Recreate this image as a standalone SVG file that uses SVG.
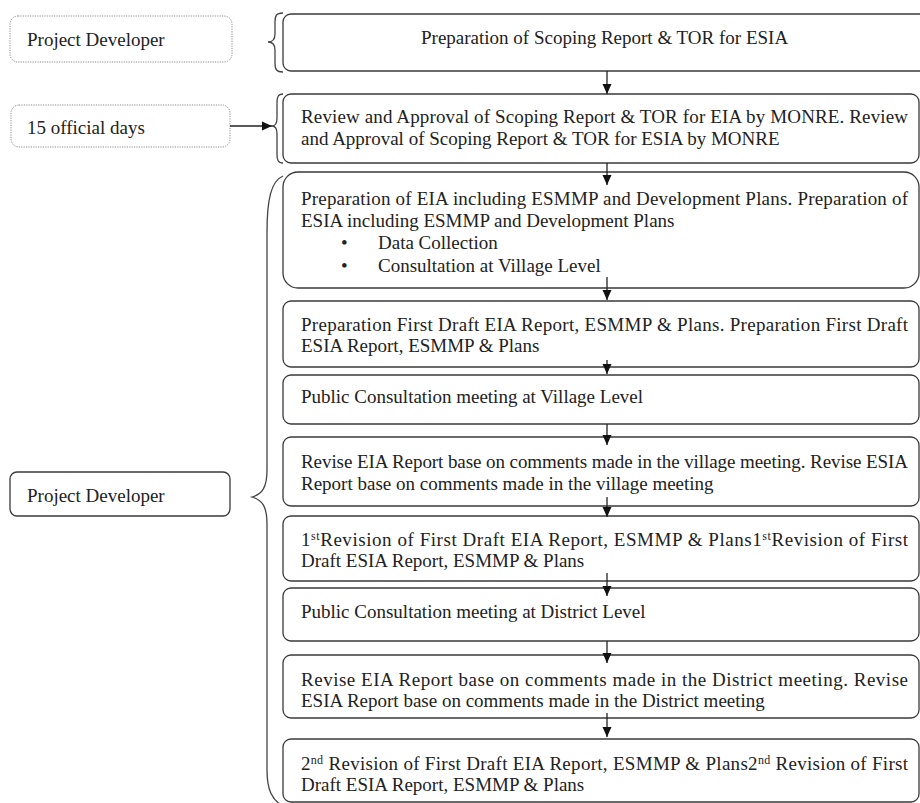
<svg xmlns="http://www.w3.org/2000/svg" width="920" height="803" viewBox="0 0 920 803">
<style>
text{font-family:"Liberation Serif","Times New Roman",serif;font-size:19px;fill:#222}
.box{fill:#fff;stroke:#3a3a3a;stroke-width:1.3}
.dot{fill:#fff;stroke:#8a8a8a;stroke-width:1;stroke-dasharray:1.2 1.2}
.con{fill:none;stroke:#222;stroke-width:1.3}
.brace{fill:none;stroke:#444;stroke-width:1.3}
.sup{font-size:12px}
</style>
<defs>
<marker id="ah" viewBox="0 0 10 10" refX="10" refY="5" markerWidth="10" markerHeight="10" markerUnits="userSpaceOnUse" orient="auto">
<path d="M0,0.5 L10,5 L0,9.5 z" fill="#111"/>
</marker>
</defs>
<rect width="920" height="803" fill="#fff"/>

<g id="lbl-developer-top">
<rect class="dot" x="10" y="16" width="222" height="46" rx="8"/>
<text x="27" y="46">Project Developer</text>
</g>
<g id="lbl-15days">
<rect class="dot" x="11" y="105" width="219" height="42" rx="8"/>
<text x="27" y="134">15 official days</text>
</g>
<g id="lbl-developer">
<rect class="box" x="10" y="472" width="220" height="44" rx="7"/>
<text x="27" y="502">Project Developer</text>
</g>

<g id="braces">
<path class="brace" d="M283,13 C276,13 275,16 275,22 L275,34 C275,40 272,42 268,42 C272,42 275,44 275,50 L275,63 C275,69 276,72 283,72"/>
<path class="brace" d="M283,94 C278,94 277,97 277,103 L277,118 C277,124 275,126 272,126 C275,126 277,128 277,134 L277,154 C277,160 278,163 283,163"/>
<path class="brace" d="M283,176 C271,181 267,200 267,232 L267,470 C267,488 262,494 252,497 C262,500 267,506 267,524 L267,770 C267,790 272,800 283,806"/>
</g>

<g id="n1">
<rect class="box" x="283" y="14" width="645" height="57" rx="8"/>
<text x="421" y="44">Preparation of Scoping Report &amp; TOR for ESIA</text>
</g>
<g id="n2">
<rect class="box" x="283" y="94" width="636" height="69" rx="8"/>
<text x="301" y="123" textLength="607" lengthAdjust="spacing">Review and Approval of Scoping Report &amp; TOR for EIA by MONRE. Review</text>
<text x="301" y="145">and Approval of Scoping Report &amp; TOR for ESIA by MONRE</text>
</g>
<g id="n3">
<rect class="box" x="283" y="172" width="636" height="116" rx="15"/>
<text x="301" y="205" textLength="607" lengthAdjust="spacing">Preparation of EIA including ESMMP and Development Plans. Preparation of</text>
<text x="301" y="227">ESIA including ESMMP and Development Plans</text>
<text x="341" y="249">•</text>
<text x="378" y="249">Data Collection</text>
<text x="341" y="272">•</text>
<text x="378" y="272">Consultation at Village Level</text>
</g>
<g id="n4">
<rect class="box" x="283" y="301" width="636" height="66" rx="8"/>
<text x="301" y="331" textLength="607" lengthAdjust="spacing">Preparation First Draft EIA Report, ESMMP &amp; Plans. Preparation First Draft</text>
<text x="301" y="352">ESIA Report, ESMMP &amp; Plans</text>
</g>
<g id="n5">
<rect class="box" x="283" y="375" width="636" height="49" rx="8"/>
<text x="301" y="403">Public Consultation meeting at Village Level</text>
</g>
<g id="n6">
<rect class="box" x="283" y="437" width="636" height="69" rx="8"/>
<text x="301" y="468" textLength="607" lengthAdjust="spacing">Revise EIA Report base on comments made in the village meeting. Revise ESIA</text>
<text x="301" y="490">Report base on comments made in the village meeting</text>
</g>
<g id="n7">
<rect class="box" x="283" y="516" width="636" height="65" rx="8"/>
<text x="301" y="546" textLength="607" lengthAdjust="spacing">1<tspan class="sup" dy="-6">st</tspan><tspan dy="6">Revision of First Draft EIA Report, ESMMP &amp; Plans1</tspan><tspan class="sup" dy="-6">st</tspan><tspan dy="6">Revision of First</tspan></text>
<text x="301" y="567">Draft ESIA Report, ESMMP &amp; Plans</text>
</g>
<g id="n8">
<rect class="box" x="283" y="588" width="636" height="53" rx="8"/>
<text x="301" y="618">Public Consultation meeting at District Level</text>
</g>
<g id="n9">
<rect class="box" x="283" y="655" width="636" height="63" rx="8"/>
<text x="301" y="686" textLength="607" lengthAdjust="spacing">Revise EIA Report base on comments made in the District meeting. Revise</text>
<text x="301" y="707">ESIA Report base on comments made in the District meeting</text>
</g>
<g id="n10">
<rect class="box" x="283" y="739" width="636" height="63" rx="8"/>
<text x="301" y="770" textLength="607" lengthAdjust="spacing">2<tspan class="sup" dy="-6">nd</tspan><tspan dy="6"> Revision of First Draft EIA Report, ESMMP &amp; Plans2</tspan><tspan class="sup" dy="-6">nd</tspan><tspan dy="6"> Revision of First</tspan></text>
<text x="301" y="791">Draft ESIA Report, ESMMP &amp; Plans</text>
</g>

<g id="connectors">
<line class="con" x1="230" y1="126" x2="272" y2="126" marker-end="url(#ah)"/>
<line class="con" x1="607" y1="71" x2="607" y2="94" marker-end="url(#ah)"/>
<line class="con" x1="607" y1="163" x2="607" y2="185" marker-end="url(#ah)"/>
<line class="con" x1="607" y1="277" x2="607" y2="300" marker-end="url(#ah)"/>
<line class="con" x1="607" y1="360" x2="607" y2="374" marker-end="url(#ah)"/>
<line class="con" x1="607" y1="424" x2="607" y2="445" marker-end="url(#ah)"/>
<line class="con" x1="607" y1="497" x2="607" y2="517" marker-end="url(#ah)"/>
<line class="con" x1="607" y1="573" x2="607" y2="596" marker-end="url(#ah)"/>
<line class="con" x1="607" y1="641" x2="607" y2="663" marker-end="url(#ah)"/>
<line class="con" x1="607" y1="713" x2="607" y2="737" marker-end="url(#ah)"/>
</g>
</svg>
